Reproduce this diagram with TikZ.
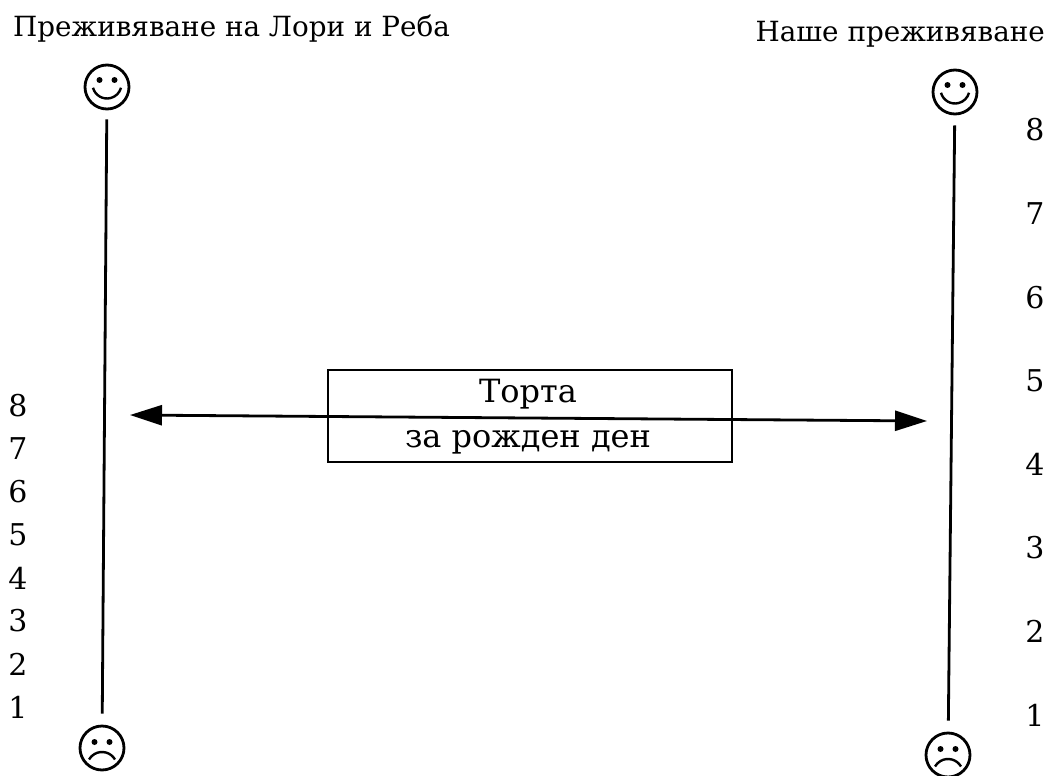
\documentclass[tikz,border=0pt]{standalone}
\usepackage{fontspec}
\setmainfont{DejaVu Serif}
\usetikzlibrary{arrows.meta}
\tikzset{
  ink/.style={line width=2.8pt, black},
  face/.style={circle, draw, line width=2.8pt, minimum size=44pt, inner sep=0pt},
  happy/.style={face, path picture={
      \fill ([shift={(-7.5pt,7pt)}]path picture bounding box.center) circle (3pt);
      \fill ([shift={(7.5pt,7pt)}]path picture bounding box.center) circle (3pt);
      \draw[line width=2.4pt] ([shift={(0pt,3pt)}]path picture bounding box.center) ++(195:14.5pt) arc[start angle=195,end angle=345,radius=14.5pt];
  }},
  sad/.style={face, path picture={
      \fill ([shift={(-7.5pt,6pt)}]path picture bounding box.center) circle (3pt);
      \fill ([shift={(7.5pt,6pt)}]path picture bounding box.center) circle (3pt);
      \draw[line width=2.4pt] ([shift={(0pt,-19pt)}]path picture bounding box.center) ++(30:15pt) arc[start angle=30,end angle=150,radius=15pt];
  }},
  title/.style={font=\fontsize{27.8}{32}\selectfont, inner sep=0pt},
  num/.style={font=\fontsize{30}{33}\selectfont, inner sep=0pt},
  boxtext/.style={font=\fontsize{32}{36}\selectfont, inner sep=0pt},
  cakebox/.style={draw, line width=2.8pt, minimum width=404pt, minimum height=92pt, inner sep=0pt},
  biarrow/.style={ink, {Triangle[length=32pt,width=20pt]}-{Triangle[length=32pt,width=20pt]}},
}
\begin{document}
\begin{tikzpicture}[x=1pt,y=-1pt]
\useasboundingbox (0,0) rectangle (1050,776);
% titles
\node[title, anchor=base west] (lt) at (13,37) {Преживяване на Лори и Реба};
\node[title, anchor=base east] (rt) at (1045,42) {Наше преживяване};
% faces
\node[happy] (lh) at (107,87) {};
\node[sad] (ls) at (102,748) {};
\node[happy] (rh) at (955,92) {};
\node[sad] (rs) at (948,755) {};
\draw[ink, shorten <=9pt, shorten >=11pt] (lh) -- (ls);
\draw[ink, shorten <=10pt, shorten >=11pt] (rh) -- (rs);
% left scale
\foreach \n [count=\i from 0] in {8,7,6,5,4,3,2,1}
  \node[num] (l\n) at (18,406+43*\i) {\n};
% right scale
\foreach \n [count=\i from 0] in {8,7,6,5,4,3,2,1}
  \node[num] (r\n) at (1035,130+83.6*\i) {\n};
% box and arrow
\node[cakebox] (cake) at (530,416) {};
\node[boxtext, anchor=base] (t1) at (528,402) {Торта};
\node[boxtext, anchor=base] (t2) at (528,447) {за рожден ден};
\coordinate (al) at (130,415);
\coordinate (ar) at (927,421);
\draw[biarrow] (al) -- (ar);
\end{tikzpicture}
\end{document}
